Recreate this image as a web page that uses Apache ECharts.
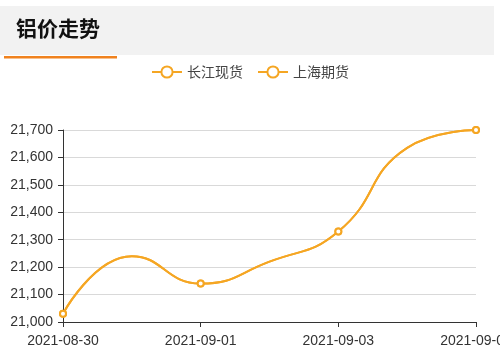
<!DOCTYPE html>
<html>
<head>
<meta charset="utf-8">
<script src="https://cdn.jsdelivr.net/npm/echarts@6/dist/echarts.min.js"></script>
<style>
  html, body { margin: 0; padding: 0; background: #fff; }
  #main { width: 500px; height: 353px; }
</style>
</head>
<body>
<div id="main"></div>
<script>
var dates = ['2021-08-30', '2021-08-31', '2021-09-01', '2021-09-02', '2021-09-03', '2021-09-04', '2021-09-05'];
var cjPrice = [21030, 21240, 21140, 21220, 21330, 21635, 21700];
var shPrice = [21030, 21240, 21140, 21220, 21330, 21635, 21700];
var seriesNames = ['长江现货', '上海期货'];

var textStyle = {
  color: '#333',
  fontSize: 14,
  fontFamily: 'Liberation Sans, Arial, sans-serif'
};
var axisLine = {
  lineStyle: { color: '#333', width: 1 }
};

var chart = echarts.init(document.getElementById('main'), null, { renderer: 'canvas' });
var option = {
  animation: false,
  color: ['#F5A623'],
  graphic: [
    { type: 'rect', shape: { x: 0, y: 6, width: 494, height: 49 }, style: { fill: '#f2f2f2' } },
    { type: 'rect', shape: { x: 4, y: 56, width: 113, height: 2.5 }, style: { fill: '#f0821e' } },
    {
      type: 'text', left: 16, top: 18,
      style: { text: '铝价走势', fill: '#111', font: 'bold 21px "Noto Sans CJK SC"' }
    }
  ],
  legend: {
    top: 60,
    left: 'center',
    itemGap: 14,
    itemWidth: 30,
    itemHeight: 14,
    textStyle: { color: '#444', fontSize: 14, fontFamily: 'Noto Sans CJK SC' },
    data: seriesNames
  },
  grid: {
    left: 63,
    right: 24,
    top: 130,
    bottom: 31,
    containLabel: false,
    outerBoundsMode: 'none'
  },
  xAxis: {
    type: 'category',
    boundaryGap: false,
    data: dates,
    axisLine: axisLine,
    axisTick: { show: true, alignWithLabel: true, interval: 1, length: 5 },
    axisLabel: Object.assign({ interval: 1, margin: 12 }, textStyle),
    splitLine: { show: false }
  },
  yAxis: {
    type: 'value',
    min: 21000,
    max: 21700,
    interval: 100,
    axisLine: { show: true, lineStyle: { color: '#333', width: 1 } },
    axisTick: { show: true, length: 5 },
    axisLabel: Object.assign({ margin: 10 }, textStyle),
    splitLine: { lineStyle: { color: '#d9d9d9', width: 1 } }
  },
  series: [{
    name: seriesNames[0],
    type: 'line',
    smooth: true,
    showAllSymbol: false,
    symbol: 'emptyCircle',
    symbolSize: 6,
    lineStyle: { width: 2 },
    itemStyle: { borderWidth: 1 },
    data: cjPrice
  }, {
    name: seriesNames[1],
    type: 'line',
    smooth: true,
    showAllSymbol: false,
    symbol: 'emptyCircle',
    symbolSize: 6,
    lineStyle: { width: 2 },
    itemStyle: { borderWidth: 1 },
    data: shPrice
  }]
};
chart.setOption(option);
</script>
</body>
</html>
